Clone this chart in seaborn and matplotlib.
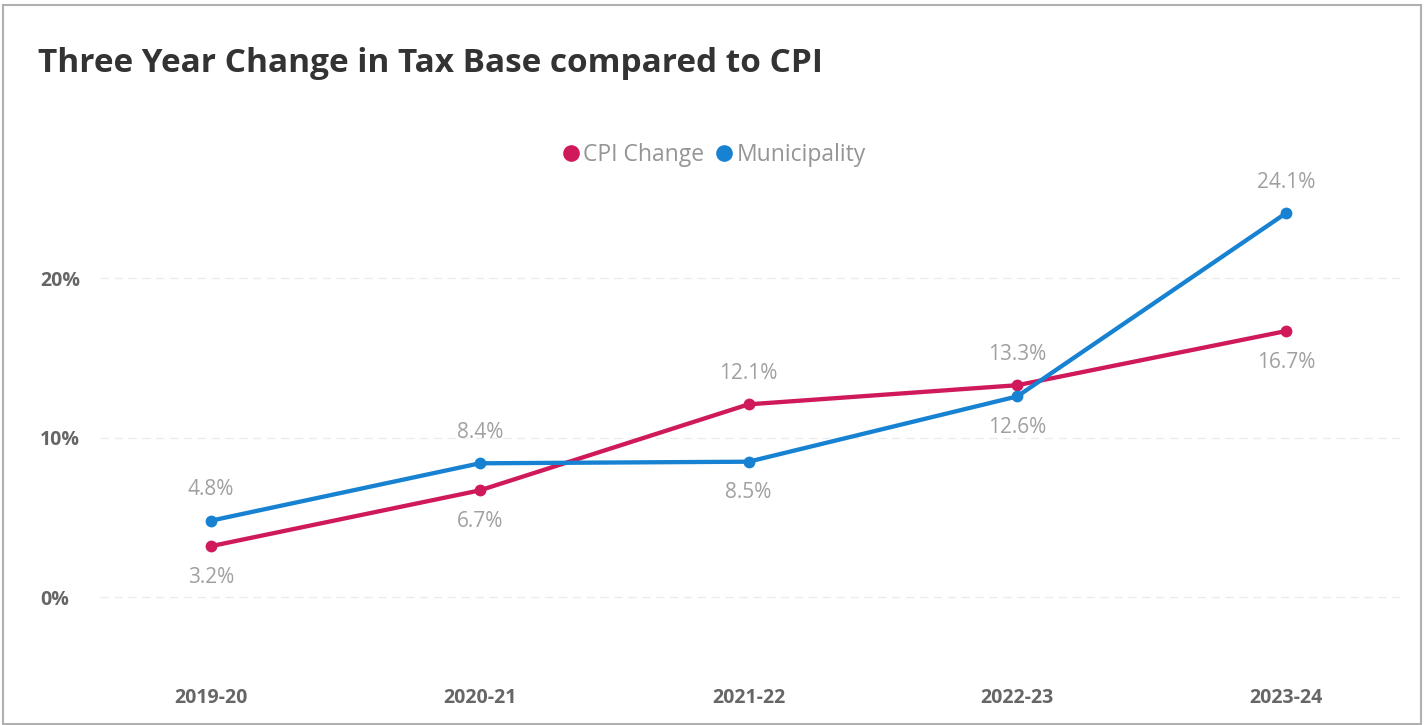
import pandas as pd
import numpy as np
import matplotlib
matplotlib.use('Agg')
import matplotlib.pyplot as plt
from matplotlib.lines import Line2D
from matplotlib.patches import Rectangle
import seaborn as sns

years = ['2019-20', '2020-21', '2021-22', '2022-23', '2023-24']
cpi_change = [3.2, 6.7, 12.1, 13.3, 16.7]
municipality = [4.8, 8.4, 8.5, 12.6, 24.1]
# which side the data labels sit on (+1 above, -1 below)
cpi_side = [-1, -1, 1, 1, -1]
muni_side = [1, 1, -1, -1, 1]

series_names = ['CPI Change', 'Municipality']
colors = {'CPI Change': '#D0195A', 'Municipality': '#1782D2'}

df = pd.DataFrame({
    'year': years * 2,
    'value': cpi_change + municipality,
    'series': ['CPI Change'] * len(years) + ['Municipality'] * len(years),
})
df['x'] = df['year'].map({y: i for i, y in enumerate(years)})

sns.set_style('white')
plt.rcParams['font.family'] = ['Open Sans', 'DejaVu Sans']

fig = plt.figure(figsize=(14.24, 7.25), dpi=100)
ax = fig.add_axes([100 / 1424, 45 / 725, 1300 / 1424, 580 / 725])

sns.lineplot(data=df, x='x', y='value', hue='series', palette=colors,
             marker='o', markersize=8.5, markeredgewidth=0, linewidth=3.1,
             ax=ax, legend=False)

# faint dashed grid
for yv in [0, 10, 20]:
    ax.axhline(yv, color='#ececec', linewidth=1, linestyle=(0, (6, 4)), zorder=0)

# data labels
for vals, sides in [(cpi_change, cpi_side), (municipality, muni_side)]:
    for i, (v, s) in enumerate(zip(vals, sides)):
        ax.annotate(f'{v:.1f}%', (i, v), xytext=(0, 31 * s), textcoords='offset pixels',
                    ha='center', va='center', fontsize=15, color='#a0a0a0')

ax.set_xlim(-0.413, 4.424)
ax.set_ylim(-5.2, 31.2)
ax.set_xticks(range(len(years)))
ax.set_xticklabels(years)
ax.set_yticks([0, 10, 20])
ax.set_yticklabels(['0%', '10%', '20%'])
ax.tick_params(axis='both', length=0, labelsize=14, labelcolor='#666666')
for lab in ax.get_xticklabels() + ax.get_yticklabels():
    lab.set_fontweight('bold')
for lab in ax.get_yticklabels():
    lab.set_horizontalalignment('left')
ax.tick_params(axis='x', pad=6)
ax.tick_params(axis='y', pad=43)
ax.set_xlabel('')
ax.set_ylabel('')
for sp in ax.spines.values():
    sp.set_visible(False)

# legend
handles = [Line2D([], [], marker='o', linestyle='', markersize=12,
                  markerfacecolor=colors[n], markeredgewidth=0) for n in series_names]
fig.legend(handles, series_names, loc='center', bbox_to_anchor=(712 / 1424, 1 - 155 / 725),
           ncol=2, frameon=False, fontsize=16.5, labelcolor='#959595',
           handletextpad=0.0, columnspacing=0.3, handlelength=1.1)

fig.text(38 / 1424, 1 - 64 / 725, 'Three Year Change in Tax Base compared to CPI',
         fontsize=24, fontweight='bold', color='#333333', va='center', ha='left')

# outer frame
fig.patches.append(Rectangle((0.002, 0.002), 0.996, 0.991, transform=fig.transFigure,
                             fill=False, edgecolor='#b0b0b0', linewidth=1.5))

fig.savefig('out.png', dpi=100)
